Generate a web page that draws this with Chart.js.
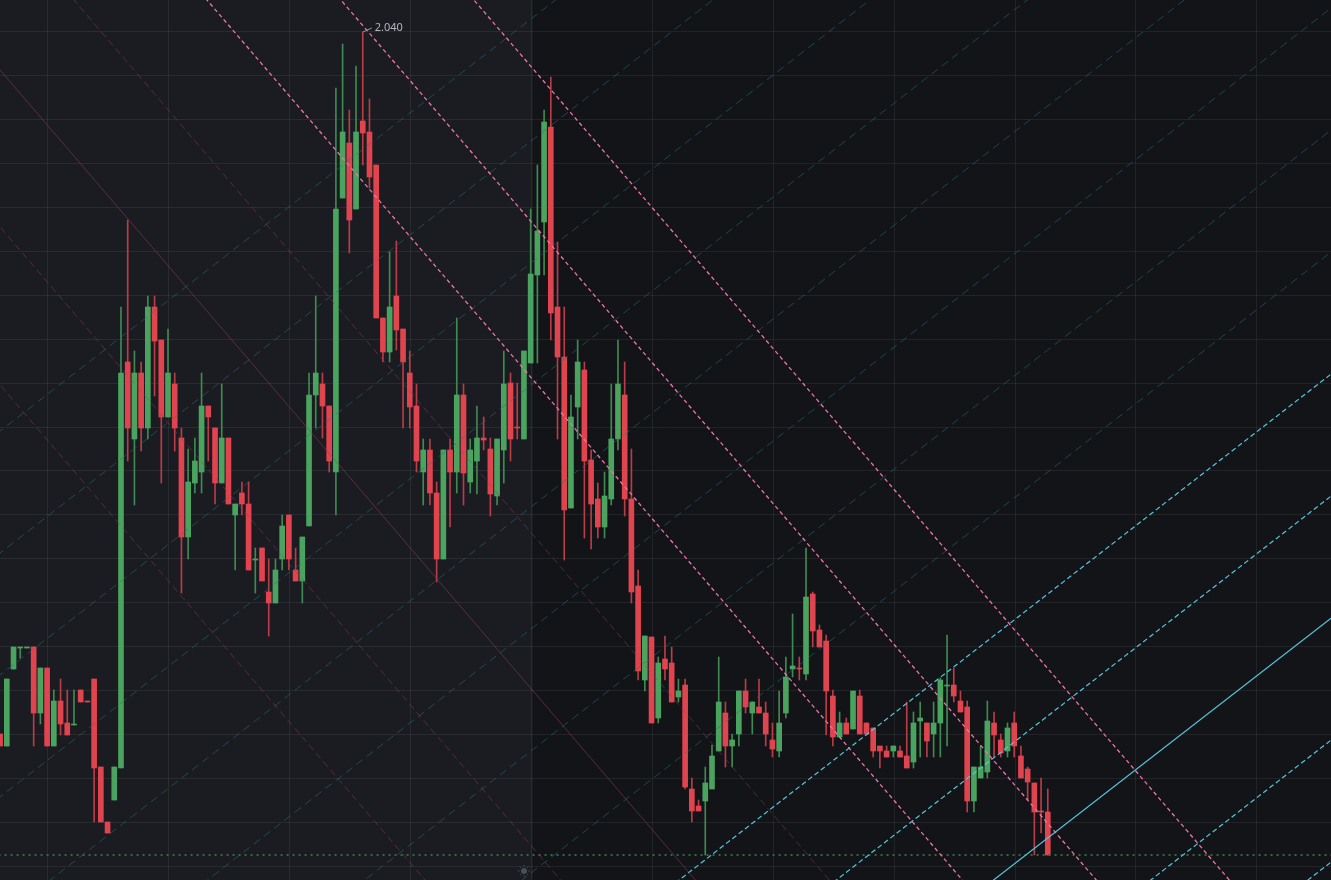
<!DOCTYPE html>
<html lang="pt-BR">
<head>
<meta charset="UTF-8">
<title>Gráfico de velas</title>
<script src="https://cdn.jsdelivr.net/npm/chart.js@4.4.1/dist/chart.umd.min.js"></script>
<style>
    html, body { margin: 0; padding: 0; background: #131418; overflow: hidden; }
    #priceChart { display: block; }
</style>
</head>
<body>
<canvas id="priceChart" width="1331" height="880"></canvas>
<script>
// Velas (o índice do array é a posição da vela no eixo x)
const opens = [
    1.338, 1.326, 1.403, 1.424, 1.424, 1.425, 1.359, 1.404, 1.326, 1.371,
    1.349, 1.347, 1.382, 1.371, 1.393, 1.305, 1.250, 1.272, 1.304, 1.710,
    1.633, 1.699, 1.644, 1.765, 1.732, 1.655, 1.688, 1.634, 1.535, 1.589,
    1.600, 1.666, 1.644, 1.589, 1.634, 1.557, 1.579, 1.568, 1.512, 1.524,
    1.480, 1.469, 1.513, 1.557, 1.502, 1.491, 1.546, 1.677, 1.688, 1.666,
    1.600, 1.874, 1.929, 1.863, 1.951, 1.940, 1.907, 1.754, 1.720, 1.776,
    1.743, 1.699, 1.666, 1.600, 1.622, 1.579, 1.513, 1.622, 1.600, 1.677,
    1.590, 1.611, 1.634, 1.623, 1.576, 1.622, 1.689, 1.645, 1.633, 1.709,
    1.797, 1.850, 1.945, 1.765, 1.715, 1.564, 1.665, 1.702, 1.612, 1.573,
    1.545, 1.573, 1.633, 1.677, 1.573, 1.486, 1.392, 1.435, 1.354, 1.413,
    1.409, 1.375, 1.387, 1.283, 1.266, 1.271, 1.283, 1.321, 1.359, 1.326,
    1.338, 1.381, 1.359, 1.365, 1.359, 1.332, 1.321, 1.359, 1.403, 1.404,
    1.398, 1.478, 1.442, 1.431, 1.376, 1.335, 1.349, 1.343, 1.376, 1.349,
    1.344, 1.326, 1.321, 1.321, 1.321, 1.316, 1.310, 1.351, 1.349, 1.338,
    1.349, 1.386, 1.387, 1.371, 1.365, 1.271, 1.294, 1.300, 1.349, 1.332,
    1.321, 1.349, 1.316, 1.303, 1.289, 1.261, 1.260
];
const highs = [
    1.338, 1.393, 1.425, 1.425, 1.425, 1.425, 1.404, 1.404, 1.382, 1.393,
    1.382, 1.382, 1.382, 1.371, 1.393, 1.305, 1.250, 1.305, 1.765, 1.852,
    1.721, 1.710, 1.776, 1.776, 1.732, 1.743, 1.699, 1.644, 1.623, 1.634,
    1.699, 1.666, 1.644, 1.688, 1.634, 1.568, 1.590, 1.590, 1.524, 1.524,
    1.513, 1.513, 1.557, 1.557, 1.524, 1.535, 1.699, 1.776, 1.699, 1.666,
    1.984, 2.028, 1.962, 2.006, 2.040, 1.973, 1.907, 1.754, 1.820, 1.831,
    1.743, 1.721, 1.688, 1.633, 1.633, 1.590, 1.622, 1.633, 1.754, 1.688,
    1.633, 1.666, 1.655, 1.634, 1.633, 1.721, 1.699, 1.689, 1.721, 1.863,
    1.907, 1.962, 1.995, 1.830, 1.765, 1.677, 1.732, 1.710, 1.622, 1.589,
    1.600, 1.688, 1.732, 1.710, 1.623, 1.502, 1.436, 1.435, 1.415, 1.436,
    1.425, 1.393, 1.393, 1.294, 1.272, 1.305, 1.327, 1.415, 1.370, 1.338,
    1.381, 1.393, 1.370, 1.393, 1.370, 1.349, 1.381, 1.415, 1.458, 1.415,
    1.524, 1.480, 1.447, 1.437, 1.382, 1.360, 1.354, 1.381, 1.382, 1.349,
    1.344, 1.326, 1.326, 1.326, 1.326, 1.370, 1.360, 1.370, 1.349, 1.370,
    1.394, 1.437, 1.404, 1.381, 1.371, 1.305, 1.326, 1.371, 1.360, 1.338,
    1.349, 1.360, 1.326, 1.305, 1.289, 1.294, 1.283
];
const lows = [
    1.326, 1.326, 1.403, 1.414, 1.424, 1.326, 1.348, 1.326, 1.326, 1.337,
    1.337, 1.347, 1.370, 1.370, 1.250, 1.250, 1.239, 1.272, 1.304, 1.611,
    1.567, 1.621, 1.633, 1.676, 1.589, 1.655, 1.621, 1.479, 1.513, 1.579,
    1.579, 1.611, 1.568, 1.589, 1.568, 1.502, 1.557, 1.502, 1.479, 1.491,
    1.436, 1.469, 1.502, 1.502, 1.491, 1.469, 1.546, 1.644, 1.634, 1.600,
    1.557, 1.874, 1.819, 1.863, 1.907, 1.884, 1.754, 1.710, 1.710, 1.722,
    1.644, 1.644, 1.600, 1.567, 1.567, 1.490, 1.513, 1.545, 1.579, 1.567,
    1.579, 1.578, 1.622, 1.556, 1.567, 1.589, 1.611, 1.633, 1.633, 1.709,
    1.709, 1.797, 1.732, 1.633, 1.512, 1.564, 1.633, 1.534, 1.523, 1.534,
    1.534, 1.567, 1.622, 1.556, 1.469, 1.392, 1.381, 1.349, 1.349, 1.392,
    1.370, 1.370, 1.283, 1.250, 1.261, 1.217, 1.283, 1.321, 1.305, 1.305,
    1.326, 1.359, 1.338, 1.359, 1.326, 1.315, 1.315, 1.354, 1.395, 1.392,
    1.392, 1.425, 1.425, 1.337, 1.326, 1.335, 1.338, 1.343, 1.338, 1.338,
    1.315, 1.304, 1.315, 1.315, 1.315, 1.304, 1.304, 1.315, 1.315, 1.315,
    1.315, 1.326, 1.370, 1.360, 1.260, 1.260, 1.294, 1.294, 1.315, 1.315,
    1.315, 1.315, 1.294, 1.272, 1.217, 1.239, 1.217
];
const closes = [
    1.326, 1.393, 1.425, 1.425, 1.425, 1.359, 1.404, 1.326, 1.371, 1.348,
    1.337, 1.348, 1.370, 1.370, 1.304, 1.250, 1.239, 1.305, 1.699, 1.644,
    1.699, 1.644, 1.765, 1.731, 1.655, 1.699, 1.644, 1.535, 1.590, 1.611,
    1.666, 1.655, 1.589, 1.634, 1.568, 1.568, 1.568, 1.502, 1.513, 1.491,
    1.469, 1.502, 1.546, 1.513, 1.491, 1.535, 1.677, 1.699, 1.666, 1.611,
    1.863, 1.940, 1.852, 1.940, 1.939, 1.895, 1.754, 1.720, 1.765, 1.742,
    1.710, 1.665, 1.611, 1.622, 1.579, 1.513, 1.622, 1.600, 1.677, 1.599,
    1.622, 1.634, 1.632, 1.578, 1.633, 1.688, 1.633, 1.644, 1.721, 1.798,
    1.841, 1.950, 1.759, 1.715, 1.562, 1.655, 1.710, 1.611, 1.568, 1.545,
    1.576, 1.633, 1.688, 1.573, 1.480, 1.401, 1.436, 1.349, 1.409, 1.403,
    1.370, 1.381, 1.285, 1.261, 1.261, 1.289, 1.316, 1.370, 1.326, 1.332,
    1.381, 1.365, 1.370, 1.359, 1.338, 1.323, 1.349, 1.395, 1.406, 1.403,
    1.475, 1.441, 1.425, 1.381, 1.335, 1.349, 1.338, 1.381, 1.338, 1.338,
    1.321, 1.321, 1.315, 1.326, 1.315, 1.304, 1.349, 1.354, 1.331, 1.349,
    1.392, 1.387, 1.376, 1.360, 1.271, 1.305, 1.305, 1.351, 1.337, 1.319,
    1.344, 1.326, 1.294, 1.290, 1.260, 1.260, 1.217
];

// Linhas de tendência: preço no índice 0 e inclinação (preço por vela)
const fallingStarts = [2.624, 2.469, 2.313, 2.158, 2.002, 1.845, 1.687];
const fallingSlope = -0.007824;
const risingStarts = [1.641, 1.519, 1.397, 1.275, 1.153, 1.031, 0.909, 0.787, 0.665, 0.543, 0.421, 0.299, 0.177];
const risingSlope = 0.005212;

// Linha pontilhada do último preço e fim da área sombreada
const lastPriceLine = 1.217;
const shadeEnd = 79.35;

// Eixos e grade
const xRange = [-0.015, 198.17];
const yRange = [1.192, 2.072];
const gridXStart = 7.13;
const gridXStep = 18;
const gridYAnchor = 2.040;
const gridYStep = 0.0439;

document.addEventListener('DOMContentLoaded', function() {
    const green = '#4aa35e';
    const red = '#e0444f';
    const greenWick = '#3f8a52';
    const redWick = '#b93c48';

    const isUp = closes.map((c, i) => c >= opens[i]);

    function trendLine(start, slope, color, dash, width) {
        const x0 = xRange[0] - 2;
        const x1 = xRange[1] + 2;
        return {
            type: 'line',
            data: [{ x: x0, y: start + slope * x0 }, { x: x1, y: start + slope * x1 }],
            borderColor: color,
            borderWidth: width || 1,
            borderDash: dash,
            pointRadius: 0,
            fill: false,
            order: 0
        };
    }

    const lines = [];
    // Canal descendente (rosa forte nas 3 primeiras, apagado nas outras)
    fallingStarts.forEach((start, k) => {
        if (k < 3) {
            lines.push(trendLine(start, fallingSlope, '#ec74a8', [4, 3], 1.3));
        } else if (k === 4) {
            lines.push(trendLine(start, fallingSlope, 'rgba(140, 62, 92, 0.55)', []));
        } else {
            lines.push(trendLine(start, fallingSlope, 'rgba(140, 62, 92, 0.5)', [7, 4]));
        }
    });
    // Canal ascendente (verde-azulado apagado em cima, ciano embaixo)
    risingStarts.forEach((start, k) => {
        if (k < 8) {
            lines.push(trendLine(start, risingSlope, 'rgba(40, 112, 116, 0.55)', [8, 5]));
        } else if (k === 10) {
            lines.push(trendLine(start, risingSlope, '#55c6dd', [], 1.2));
        } else {
            lines.push(trendLine(start, risingSlope, '#55c6dd', [5, 3], 1.2));
        }
    });
    lines.push(trendLine(lastPriceLine, 0, '#35683f', [2, 4], 2));

    // Fundo com a área sombreada à esquerda
    const backgroundPlugin = {
        id: 'background',
        beforeDraw(chart) {
            const { ctx, width, height } = chart;
            const xEnd = chart.scales.x.getPixelForValue(shadeEnd);
            ctx.save();
            ctx.fillStyle = '#131418';
            ctx.fillRect(0, 0, width, height);
            ctx.fillStyle = '#1b1c21';
            ctx.fillRect(0, 0, xEnd, height);
            ctx.restore();
        },
        afterDraw(chart) {
            // ícone pequeno no rodapé
            const { ctx, height } = chart;
            const cx = chart.scales.x.getPixelForValue(shadeEnd) - 9;
            const cy = height - 9;
            ctx.save();
            ctx.fillStyle = '#4b4f5a';
            ctx.strokeStyle = '#4b4f5a';
            ctx.lineWidth = 1;
            ctx.beginPath();
            ctx.arc(cx, cy, 3, 0, Math.PI * 2);
            ctx.fill();
            for (let a = 0; a < 8; a++) {
                const ang = a * Math.PI / 4;
                ctx.beginPath();
                ctx.moveTo(cx + Math.cos(ang) * 4.5, cy + Math.sin(ang) * 4.5);
                ctx.lineTo(cx + Math.cos(ang) * 6, cy + Math.sin(ang) * 6);
                ctx.stroke();
            }
            ctx.restore();
        }
    };

    // Rótulo da máxima
    const maxLabelPlugin = {
        id: 'maxLabel',
        afterDatasetsDraw(chart) {
            const { ctx } = chart;
            let idx = 0;
            highs.forEach((h, i) => { if (h > highs[idx]) idx = i; });
            const px = chart.scales.x.getPixelForValue(idx);
            const py = chart.scales.y.getPixelForValue(highs[idx]);
            ctx.save();
            ctx.strokeStyle = '#9598a1';
            ctx.lineWidth = 1;
            ctx.beginPath();
            ctx.moveTo(px, py);
            ctx.lineTo(px + 9, py - 4);
            ctx.stroke();
            ctx.fillStyle = '#b2b5be';
            ctx.font = '11px "Noto Sans", "DejaVu Sans", sans-serif';
            ctx.textBaseline = 'middle';
            ctx.fillText(highs[idx].toFixed(3), px + 12, py - 4);
            ctx.restore();
        }
    };

    const gridColor = 'rgba(255, 255, 255, 0.065)';

    const ctx = document.getElementById('priceChart').getContext('2d');
    new Chart(ctx, {
        type: 'bar',
        data: {
            datasets: lines.concat([
                {
                    data: opens.map((o, i) => ({ x: i, y: [o, closes[i]] })),
                    backgroundColor: isUp.map(u => u ? green : red),
                    borderWidth: 0,
                    barThickness: 5,
                    grouped: false,
                    order: 1
                },
                {
                    data: lows.map((l, i) => ({ x: i, y: [l, highs[i]] })),
                    backgroundColor: isUp.map(u => u ? greenWick : redWick),
                    borderWidth: 0,
                    barThickness: 1,
                    grouped: false,
                    order: 2
                }
            ])
        },
        options: {
            responsive: false,
            animation: false,
            events: [],
            layout: { padding: 0 },
            plugins: {
                legend: { display: false },
                tooltip: { enabled: false }
            },
            scales: {
                x: {
                    type: 'linear',
                    min: xRange[0],
                    max: xRange[1],
                    offset: false,
                    border: { display: false },
                    grid: { color: gridColor, drawTicks: false, offset: false },
                    ticks: { display: false },
                    afterBuildTicks: function(scale) {
                        const ticks = [];
                        for (let v = gridXStart; v <= xRange[1]; v += gridXStep) ticks.push({ value: v });
                        scale.ticks = ticks;
                    }
                },
                y: {
                    min: yRange[0],
                    max: yRange[1],
                    border: { display: false },
                    grid: { color: gridColor, drawTicks: false },
                    ticks: { display: false },
                    afterBuildTicks: function(scale) {
                        const ticks = [];
                        let v = gridYAnchor - Math.floor((gridYAnchor - yRange[0]) / gridYStep) * gridYStep;
                        for (; v <= yRange[1]; v += gridYStep) ticks.push({ value: v });
                        scale.ticks = ticks;
                    }
                }
            }
        },
        plugins: [backgroundPlugin, maxLabelPlugin]
    });
});
</script>
</body>
</html>
